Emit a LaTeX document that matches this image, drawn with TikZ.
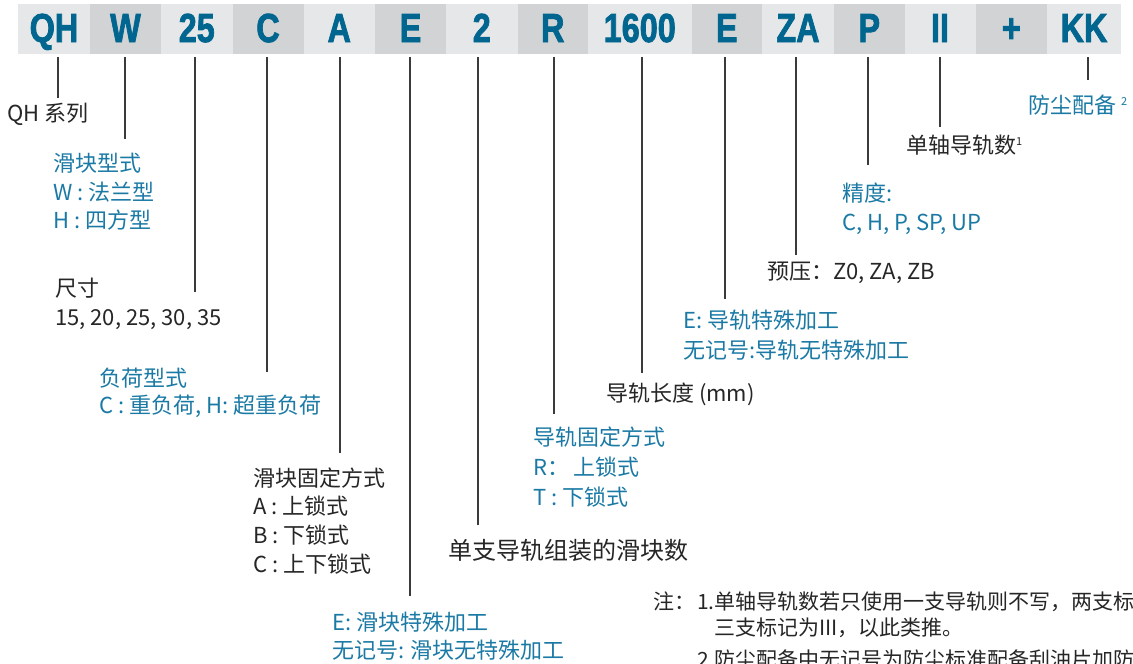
\documentclass[tikz,border=0pt]{standalone}
\usepackage{fontspec}
\setmainfont{Noto Sans CJK SC}
\newfontfamily\hdrfont{Liberation Sans}[UprightFont=*-Bold, UprightFeatures={FakeBold=2.2}]
\definecolor{hdrblue}{HTML}{00668F}
\definecolor{txtblue}{HTML}{1B7AA5}
\definecolor{txtdark}{HTML}{262626}
\definecolor{celllight}{HTML}{E6E7E8}
\definecolor{celldark}{HTML}{D1D3D4}
\definecolor{linegray}{HTML}{3A3A3A}
\newcommand{\hx}[1]{\scalebox{0.8}[1]{#1}}
\newcommand{\supx}[1]{\raisebox{8pt}{\fontsize{11}{11}\selectfont #1}}
\begin{document}
\begin{tikzpicture}[x=1pt,y=-1pt,
  cell/.style={anchor=west, minimum width=#1, minimum height=50pt, inner sep=0pt, outer sep=0pt,
    text height=29pt, text depth=3pt, text=hdrblue,
    font=\hdrfont\fontsize{40.5}{40}\selectfont},
  cl/.style={cell=#1, fill=celllight},
  cd/.style={cell=#1, fill=celldark},
  conn/.style={draw=linegray, line width=1.2pt, shorten <=3pt},
  txt/.style={anchor=base west, inner sep=0pt, text=txtdark, font=\fontsize{22}{26}\selectfont},
  btxt/.style={txt, text=txtblue},
  ntxt/.style={txt, font=\fontsize{21}{25}\selectfont}]
\useasboundingbox (0,0) rectangle (1133,664);
\clip (0,0) rectangle (1133,664);
\fill[white] (0,0) rectangle (1133,664);

% header cells
\node[cl=72pt]   (cQH)  at (18,29)    {\hx{QH}};
\node[cd=71pt]   (cW)   at (90,29)    {\hx{W}};
\node[cl=71.5pt] (c25)  at (161,29)   {\hx{25}};
\node[cd=71pt]   (cC)   at (232.5,29) {\hx{C}};
\node[cl=71.5pt] (cA)   at (303.5,29) {\hx{A}};
\node[cd=71pt]   (cE)   at (375,29)   {\hx{E}};
\node[cl=71.5pt] (c2)   at (446,29)   {\hx{2}};
\node[cd=70.5pt] (cR)   at (517.5,29) {\hx{R}};
\node[cl=103.5pt](cL)   at (588,29)   {\hx{1600}};
\node[cd=70.5pt] (cE2)  at (691.5,29) {\hx{E}};
\node[cl=72pt]   (cZA)  at (762,29)   {\hx{ZA}};
\node[cd=70.5pt] (cP)   at (834,29)   {\hx{P}};
\node[cl=71pt]   (cII)  at (904.5,29) {\hx{II}};
\node[cd=71.5pt] (cPl)  at (975.5,29) {\hx{+}};
\node[cl=74pt]   (cKK)  at (1047,29)  {\hx{KK}};

% connector end points
\coordinate (eQH) at (58,98);
\coordinate (eW)  at (125,139);
\coordinate (e25) at (195,292);
\coordinate (eC)  at (267,372);
\coordinate (eA)  at (340,453);
\coordinate (eE)  at (410,596);
\coordinate (e2)  at (478,525);
\coordinate (eR)  at (554,414);
\coordinate (eL)  at (642,373);
\coordinate (eE2) at (725,299);
\coordinate (eZA) at (796,255);
\coordinate (eP)  at (868,165);
\coordinate (eII) at (940,127);
\coordinate (eKK) at (1088,80);

\foreach \c/\e in {cQH/eQH, cW/eW, c25/e25, cC/eC, cA/eA, cE/eE, c2/e2, cR/eR,
                   cL/eL, cE2/eE2, cZA/eZA, cP/eP, cII/eII, cKK/eKK}
  \draw[conn] (\c.south -| \e) -- (\e);

% labels
\node[txt]  (tQH)  at (7,121)   {QH 系列};
\node[btxt] (tW1)  at (53,171)  {滑块型式};
\node[btxt] (tW2)  at (53,200)  {W : 法兰型};
\node[btxt] (tW3)  at (53,228)  {H : 四方型};
\node[txt]  (t251) at (55,296)  {尺寸};
\node[txt]  (t252) at (55,325)  {15, 20, 25, 30, 35};
\node[btxt] (tC1)  at (99,386)  {负荷型式};
\node[btxt] (tC2)  at (99,413)  {C : 重负荷, H: 超重负荷};
\node[txt]  (tA1)  at (253,486) {滑块固定方式};
\node[txt]  (tA2)  at (253,514) {A : 上锁式};
\node[txt]  (tA3)  at (253,543) {B : 下锁式};
\node[txt]  (tA4)  at (253,572) {C : 上下锁式};
\node[btxt] (tE1)  at (332,630) {E: 滑块特殊加工};
\node[btxt] (tE2)  at (332,658) {无记号: 滑块无特殊加工};
\node[txt, font=\fontsize{24}{28}\selectfont] (t2) at (448,559) {单支导轨组装的滑块数};
\node[btxt] (tR1)  at (533,445) {导轨固定方式};
\node[btxt] (tR2)  at (533,475) {R：\hspace{4pt}上锁式};
\node[btxt] (tR3)  at (533,505) {T : 下锁式};
\node[txt]  (tL)   at (606,401) {导轨长度 (mm)};
\node[btxt] (tE21) at (683,328) {E: 导轨特殊加工};
\node[btxt] (tE22) at (683,358) {无记号:导轨无特殊加工};
\node[txt]  (tZA)  at (767,279) {预压：Z0, ZA, ZB};
\node[btxt] (tP1)  at (842,201) {精度:};
\node[btxt] (tP2)  at (842,230) {C, H, P, SP, UP};
\node[txt]  (tII)  at (906,153) {单轴导轨数\supx{1}};
\node[btxt] (tKK)  at (1028,113) {防尘配备 \supx{2}};

% notes
\node[ntxt] (n0) at (653,609) {注：};
\node[ntxt] (n1) at (697,609) {1.单轴导轨数若只使用一支导轨则不写，两支标记为II，};
\node[ntxt] (n2) at (714,635) {三支标记为III，以此类推。};
\node[ntxt] (n3) at (697,667) {2.防尘配备中无记号为防尘标准配备刮油片加防尘片};
\end{tikzpicture}
\end{document}
